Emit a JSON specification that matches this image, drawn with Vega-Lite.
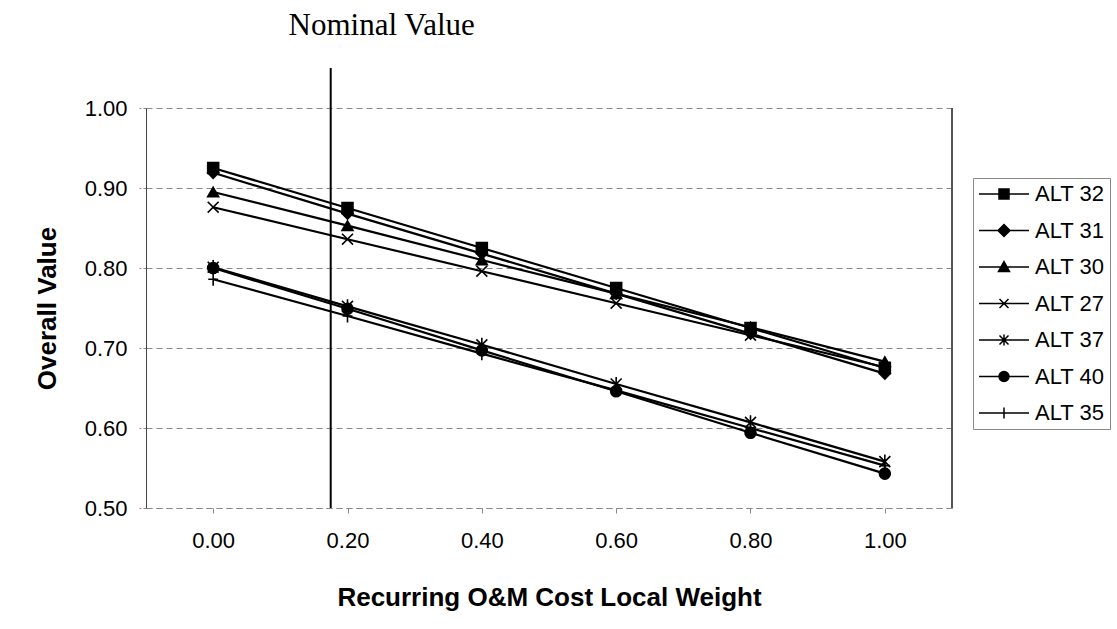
{
  "$schema": "https://vega.github.io/schema/vega-lite/v6.json",
  "width": 806,
  "height": 400,
  "autosize": {"type": "none"},
  "padding": {"left": 146, "top": 108, "right": 165, "bottom": 121},
  "background": "white",
  "config": {
    "view": {"stroke": null},
    "font": "Liberation Sans"
  },
  "datasets": {
    "alts": [
      {"weight": 0.0, "series": "ALT 32", "value": 0.925},
      {"weight": 0.2, "series": "ALT 32", "value": 0.875},
      {"weight": 0.4, "series": "ALT 32", "value": 0.825},
      {"weight": 0.6, "series": "ALT 32", "value": 0.775},
      {"weight": 0.8, "series": "ALT 32", "value": 0.725},
      {"weight": 1.0, "series": "ALT 32", "value": 0.675},
      {"weight": 0.0, "series": "ALT 31", "value": 0.919},
      {"weight": 0.2, "series": "ALT 31", "value": 0.868},
      {"weight": 0.4, "series": "ALT 31", "value": 0.818},
      {"weight": 0.6, "series": "ALT 31", "value": 0.768},
      {"weight": 0.8, "series": "ALT 31", "value": 0.718},
      {"weight": 1.0, "series": "ALT 31", "value": 0.668},
      {"weight": 0.0, "series": "ALT 30", "value": 0.895},
      {"weight": 0.2, "series": "ALT 30", "value": 0.853},
      {"weight": 0.4, "series": "ALT 30", "value": 0.810},
      {"weight": 0.6, "series": "ALT 30", "value": 0.768},
      {"weight": 0.8, "series": "ALT 30", "value": 0.726},
      {"weight": 1.0, "series": "ALT 30", "value": 0.683},
      {"weight": 0.0, "series": "ALT 27", "value": 0.876},
      {"weight": 0.2, "series": "ALT 27", "value": 0.836},
      {"weight": 0.4, "series": "ALT 27", "value": 0.796},
      {"weight": 0.6, "series": "ALT 27", "value": 0.756},
      {"weight": 0.8, "series": "ALT 27", "value": 0.716},
      {"weight": 1.0, "series": "ALT 27", "value": 0.676},
      {"weight": 0.0, "series": "ALT 37", "value": 0.801},
      {"weight": 0.2, "series": "ALT 37", "value": 0.752},
      {"weight": 0.4, "series": "ALT 37", "value": 0.704},
      {"weight": 0.6, "series": "ALT 37", "value": 0.655},
      {"weight": 0.8, "series": "ALT 37", "value": 0.607},
      {"weight": 1.0, "series": "ALT 37", "value": 0.558},
      {"weight": 0.0, "series": "ALT 40", "value": 0.800},
      {"weight": 0.2, "series": "ALT 40", "value": 0.749},
      {"weight": 0.4, "series": "ALT 40", "value": 0.697},
      {"weight": 0.6, "series": "ALT 40", "value": 0.646},
      {"weight": 0.8, "series": "ALT 40", "value": 0.594},
      {"weight": 1.0, "series": "ALT 40", "value": 0.543},
      {"weight": 0.0, "series": "ALT 35", "value": 0.786},
      {"weight": 0.2, "series": "ALT 35", "value": 0.740},
      {"weight": 0.4, "series": "ALT 35", "value": 0.693},
      {"weight": 0.6, "series": "ALT 35", "value": 0.647},
      {"weight": 0.8, "series": "ALT 35", "value": 0.600},
      {"weight": 1.0, "series": "ALT 35", "value": 0.553}
    ],
    "nominal": [{"nominal_weight": 0.175, "label": "Nominal Value"}]
  },
  "data": {"name": "alts"},
  "resolve": {"scale": {"shape": "independent"}, "legend": {"shape": "independent"}},
  "layer": [
    {
      "mark": {"type": "line", "color": "black", "strokeWidth": 2.2},
      "encoding": {
        "x": {
          "field": "weight",
          "type": "quantitative",
          "scale": {"domain": [-0.1, 1.1], "nice": false, "zero": false},
          "axis": {
            "title": "Recurring O&M Cost Local Weight",
            "titleFontSize": 26,
            "titleFontWeight": "bold",
            "titleColor": "black",
            "titlePadding": 33,
            "values": [0, 0.2, 0.4, 0.6, 0.8, 1.0],
            "format": ".2f",
            "labelFontSize": 22,
            "labelColor": "black",
            "labelPadding": 17,
            "tickSize": 5,
            "tickColor": "#888",
            "domainColor": "#888",
            "domainDash": [6, 4],
            "grid": false
          }
        },
        "y": {
          "field": "value",
          "type": "quantitative",
          "scale": {"domain": [0.5, 1.0], "nice": false, "zero": false},
          "axis": {
            "title": "Overall Value",
            "titleFontSize": 26,
            "titleFontWeight": "bold",
            "titleColor": "black",
            "titlePadding": 24,
            "values": [0.5, 0.6, 0.7, 0.8, 0.9, 1.0],
            "format": ".2f",
            "labelFontSize": 22,
            "labelColor": "black",
            "labelPadding": 12,
            "tickSize": 7,
            "tickColor": "#888",
            "tickDash": [3, 2],
            "domainColor": "#444",
            "grid": true,
            "gridColor": "#888",
            "gridDash": [6, 4],
            "gridWidth": 1
          }
        },
        "detail": {"field": "series", "type": "nominal"}
      }
    },
    {
      "mark": {"type": "rule", "color": "#555", "strokeWidth": 1.2},
      "encoding": {"x": {"datum": 1.1, "type": "quantitative"}}
    },
    {
      "mark": {"type": "point", "filled": true, "fill": "black", "stroke": "black", "strokeWidth": 1.6, "size": 120, "opacity": 1},
      "encoding": {
        "x": {"field": "weight", "type": "quantitative"},
        "y": {"field": "value", "type": "quantitative"},
        "shape": {
          "field": "series",
          "type": "nominal",
          "scale": {
            "domain": ["ALT 32", "ALT 31", "ALT 30", "ALT 27", "ALT 37", "ALT 40", "ALT 35"],
            "range": ["square", "diamond", "triangle-up", "M-1,-1L1,1M-1,1L1,-1", "M-1,-1L1,1M-1,1L1,-1M0,-1.3L0,1.3", "circle", "M0,-1.2L0,1.2M-0.9,0L0.9,0"]
          },
          "legend": null
        }
      }
    },
    {
      "transform": [{"filter": "datum.value > 2"}],
      "mark": {"type": "point", "filled": true, "fill": "black", "stroke": "black", "strokeWidth": 1.6, "opacity": 1},
      "encoding": {
        "x": {"field": "weight", "type": "quantitative"},
        "y": {"field": "value", "type": "quantitative"},
        "shape": {
          "field": "series",
          "type": "nominal",
          "scale": {
            "domain": ["ALT 32", "ALT 31", "ALT 30", "ALT 27", "ALT 37", "ALT 40", "ALT 35"],
            "range": [
              "M-5,0L5,0M-1,-1L1,-1L1,1L-1,1Z",
              "M-5,0L5,0M0,-1.2L1.2,0L0,1.2L-1.2,0Z",
              "M-5,0L5,0M0,-1.1L1.1,0.9L-1.1,0.9Z",
              "M-5,0L5,0M-0.9,-0.9L0.9,0.9M-0.9,0.9L0.9,-0.9",
              "M-5,0L5,0M-0.9,-0.9L0.9,0.9M-0.9,0.9L0.9,-0.9M0,-1.1L0,1.1",
              "M-5,0L5,0M1,0A1,1,0,1,1,-1,0A1,1,0,1,1,1,0Z",
              "M-5,0L5,0M0,-1.1L0,1.1"
            ]
          },
          "legend": {
            "title": null,
            "orient": "none",
            "legendX": 827,
            "legendY": 70,
            "labelFontSize": 22,
            "labelFont": "Liberation Sans",
            "labelColor": "black",
            "symbolSize": 100,
            "symbolOffset": 15,
            "labelOffset": 20,
            "padding": 5,
            "rowPadding": 14.5,
            "strokeColor": "#888",
            "fillColor": "white",
            "encode": {
              "legend": {
                "update": {
                  "strokeDash": {"value": [5, 3]}
                }
              },
              "symbols": {
                "update": {
                  "stroke": {"value": "black"},
                  "strokeWidth": {"value": 1.6},
                  "fill": {"value": "black"},
                  "opacity": {"value": 1}
                }
              }
            }
          }
        }
      }
    },
    {
      "data": {"name": "nominal"},
      "mark": {"type": "rule", "color": "black", "strokeWidth": 2, "clip": false},
      "encoding": {
        "x": {"field": "nominal_weight", "type": "quantitative"},
        "y": {"datum": 1.05, "type": "quantitative"},
        "y2": {"datum": 0.5}
      }
    },
    {
      "data": {"name": "nominal"},
      "mark": {"type": "text", "font": "Liberation Serif", "fontSize": 31, "color": "black", "baseline": "alphabetic", "align": "center", "dx": 51, "clip": false},
      "encoding": {
        "x": {"field": "nominal_weight", "type": "quantitative"},
        "y": {"datum": 1.091, "type": "quantitative"},
        "text": {"field": "label"}
      }
    }
  ]
}
